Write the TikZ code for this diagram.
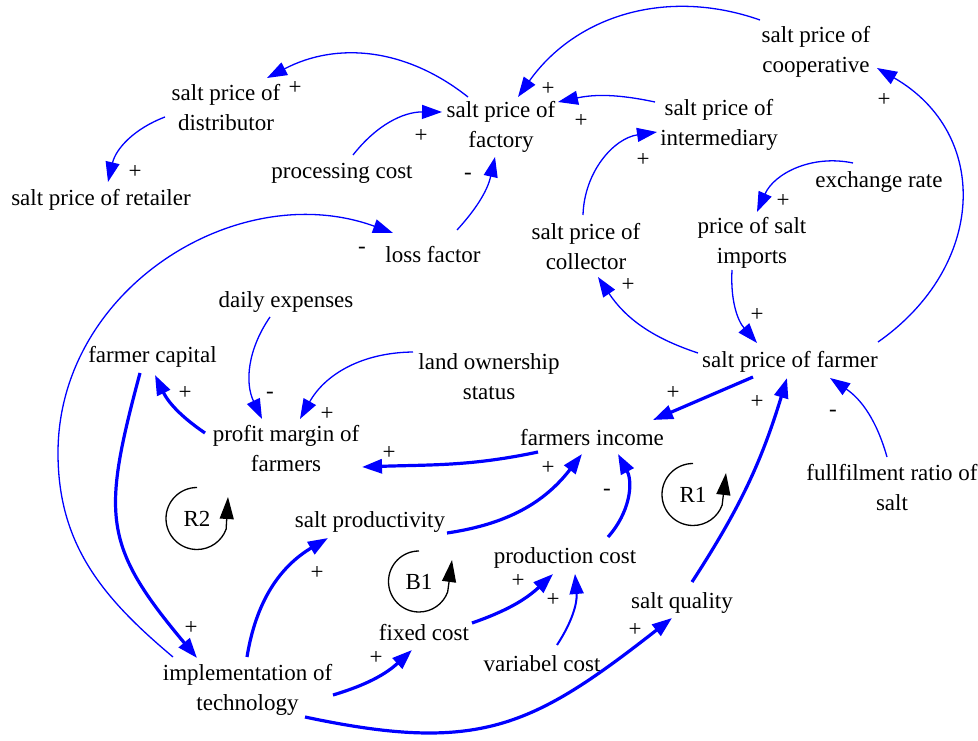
\documentclass[tikz,border=0pt]{standalone}
\usepackage{fontspec}
\setmainfont{Liberation Serif}
\newfontfamily\tnr{Liberation Serif}
\usetikzlibrary{arrows.meta,calc}
\begin{document}
\begin{tikzpicture}[x=1pt,y=1pt,
  every node/.style={font=\tnr\fontsize{23}{30}\selectfont, inner sep=0pt},
  var/.style={align=center},
  sgn/.style={inner sep=0pt},
  lnk/.style={draw=blue, line width=1.3pt, -{Triangle[length=20pt,width=14pt]}},
  thk/.style={lnk, line width=3.2pt},
  med/.style={lnk, line width=2pt},
  lp/.style={draw=black, line width=1.3pt, -{Triangle[length=22pt,width=14pt]}}
]
\useasboundingbox (0,0) rectangle (978,740);
% variables
\node[var] (coop) at (816,688) {salt price of\\cooperative};
\node[var] (dist) at (226,632) {salt price of\\distributor};
\node[var] (ret) at (101,540) {salt price of retailer};
\node[var] (fact) at (501,613) {salt price of\\factory};
\node[var] (proc) at (342,567) {processing cost};
\node[var] (loss) at (433,485) {loss factor};
\node[var] (inter) at (719,615) {salt price of\\intermediary};
\node[var] (exch) at (879,558) {exchange rate};
\node[var] (imports) at (752,497.5) {price of salt\\imports};
\node[var] (coll) at (586,493) {salt price of\\collector};
\node[var] (farmer) at (790,378) {salt price of farmer};
\node[var] (daily) at (286,438) {daily expenses};
\node[var] (land) at (489,363) {land ownership\\status};
\node[var] (capital) at (152.5,383) {farmer capital};
\node[var] (profit) at (286,291) {profit margin of\\farmers};
\node[var] (income) at (592,302) {farmers income};
\node[var] (fullf) at (892,252) {fullfilment ratio of\\salt};
\node[var] (prod) at (370,218) {salt productivity};
\node[var] (pcost) at (565,182) {production cost};
\node[var] (fixed) at (424,107) {fixed cost};
\node[var] (vcost) at (542,76) {variabel cost};
\node[var] (quality) at (682,137) {salt quality};
\node[var] (impl) at (247.5,50) {implementation of\\technology};
% loops
\node (r2) at (197,221.5) {R2};
\node (r1) at (693,245.5) {R1};
\node (b1) at (419,158.5) {B1};
\draw[lp] ($(r2)+(90:31)$) arc[start angle=90,end angle=340,radius=31] -- ($(r2)+(31,21.5)$);
\draw[lp] ($(r1)+(90:31)$) arc[start angle=90,end angle=340,radius=31] -- ($(r1)+(33,21.5)$);
\draw[lp] ($(b1)+(90:30.5)$) arc[start angle=90,end angle=340,radius=30.5] -- ($(b1)+(33,21.5)$);
% links
\draw[lnk] ($(fact)+(-33,30)$) to[bend right=33] ($(dist)+(41,30)$);
\draw[lnk] ($(dist)+(-61,-9)$) to[bend right=28] ($(ret)+(7,18)$);
\draw[lnk] ($(proc)+(11,18)$) to[bend left=26] ($(fact)+(-59,15)$);
\draw[lnk] ($(loss)+(24,25)$) to[bend right=15] ($(fact)+(-6,-30)$);
\draw[lnk] ($(coop)+(-56,32)$) to[bend right=37] ($(fact)+(17,30)$);
\draw[lnk] ($(inter)+(-64,23)$) to[bend right=12] ($(fact)+(57,25)$);
\draw[lnk] ($(coll)+(-3,32)$) to[bend left=40] ($(inter)+(-62,-7)$);
\draw[lnk] ($(exch)+(-26,19)$) to[bend right=39] ($(imports)+(5,30.5)$);
\draw[lnk] ($(farmer)+(88,20)$) to[out=35,in=-30,looseness=1.23] ($(coop)+(61,-16)$);
\draw[lnk] ($(farmer)+(-92,9)$) to[bend left=19] ($(coll)+(12,-30)$);
\draw[lnk] ($(imports)+(-20,-27.5)$) to[bend right=22] ($(farmer)+(-33,19)$);
\draw[thk] ($(farmer)+(-37,-15)$) -- ($(income)+(61,18)$);
\draw[lnk] ($(fullf)+(-5,31)$) to[bend right=20] ($(farmer)+(40,-16)$);
\draw[thk] ($(quality)+(10,21)$) to[bend right=8] ($(farmer)+(-3,-16)$);
\draw[lnk] ($(land)+(-76,25)$) to[bend right=30] ($(profit)+(14,30)$);
\draw[lnk] ($(daily)+(-16,-15)$) to[bend right=30] ($(profit)+(-24,30)$);
\draw[thk] ($(profit)+(-81,16)$) to[bend left=15] ($(capital)+(2.5,-18)$);
\draw[thk] ($(income)+(-54,-14)$) to[out=192,in=2] ($(profit)+(76,-18)$);
\draw[thk] ($(capital)+(-12.5,-16)$) to[out=-105,in=130,looseness=1.3] ($(impl)+(-50.5,32)$);
\coordinate (w20) at (58,287);
\draw[lnk] ($(impl)+(-74.5,33)$) to[out=140,in=-90] (w20) to[out=90,in=160,looseness=1.05] ($(loss)+(-40,22)$);
\draw[thk] ($(impl)+(-0.5,33)$) to[bend left=25] ($(prod)+(-42,-16)$);
\draw[thk] ($(impl)+(85.5,-5)$) to[bend right=13] ($(fixed)+(-12,-17)$);
\draw[thk] ($(impl)+(57.5,-27)$) to[out=-12,in=-142,looseness=1.2] ($(quality)+(-10,-15)$);
\draw[thk] ($(fixed)+(48,10)$) to[bend right=12] ($(pcost)+(-12,-16)$);
\draw[med] ($(vcost)+(15,19)$) to[bend right=19] ($(pcost)+(10,-16)$);
\draw[thk] ($(pcost)+(43,21)$) to[bend right=35] ($(income)+(26,-16)$);
\draw[thk] ($(prod)+(77,-11)$) to[bend right=22] ($(income)+(-10,-16)$);
% polarity signs
\node[sgn] (l1) at (295,652) {+};
\node[sgn] (l2) at (135,568) {+};
\node[sgn] (l3) at (421,604) {+};
\node[sgn] (l4) at (468,564) {-};
\node[sgn] (l5) at (548,651) {+};
\node[sgn] (l6) at (581,619) {+};
\node[sgn] (l7) at (643,580) {+};
\node[sgn] (l8) at (783,539) {+};
\node[sgn] (l9) at (884,640) {+};
\node[sgn] (l10) at (628,455) {+};
\node[sgn] (l11) at (757,425) {+};
\node[sgn] (l12) at (673,347) {+};
\node[sgn] (l13) at (833,327) {-};
\node[sgn] (l14) at (757,338) {+};
\node[sgn] (l15) at (327,326) {+};
\node[sgn] (l16) at (270,345) {-};
\node[sgn] (l17) at (185,347) {+};
\node[sgn] (l18) at (389,287) {+};
\node[sgn] (l19) at (191,112) {+};
\node[sgn] (l20) at (362,490) {-};
\node[sgn] (l21) at (317,167) {+};
\node[sgn] (l22) at (376,82) {+};
\node[sgn] (l23) at (635,110) {+};
\node[sgn] (l24) at (518,159) {+};
\node[sgn] (l25) at (553,140) {+};
\node[sgn] (l26) at (607,248) {-};
\node[sgn] (l27) at (548,272) {+};
\end{tikzpicture}
\end{document}
